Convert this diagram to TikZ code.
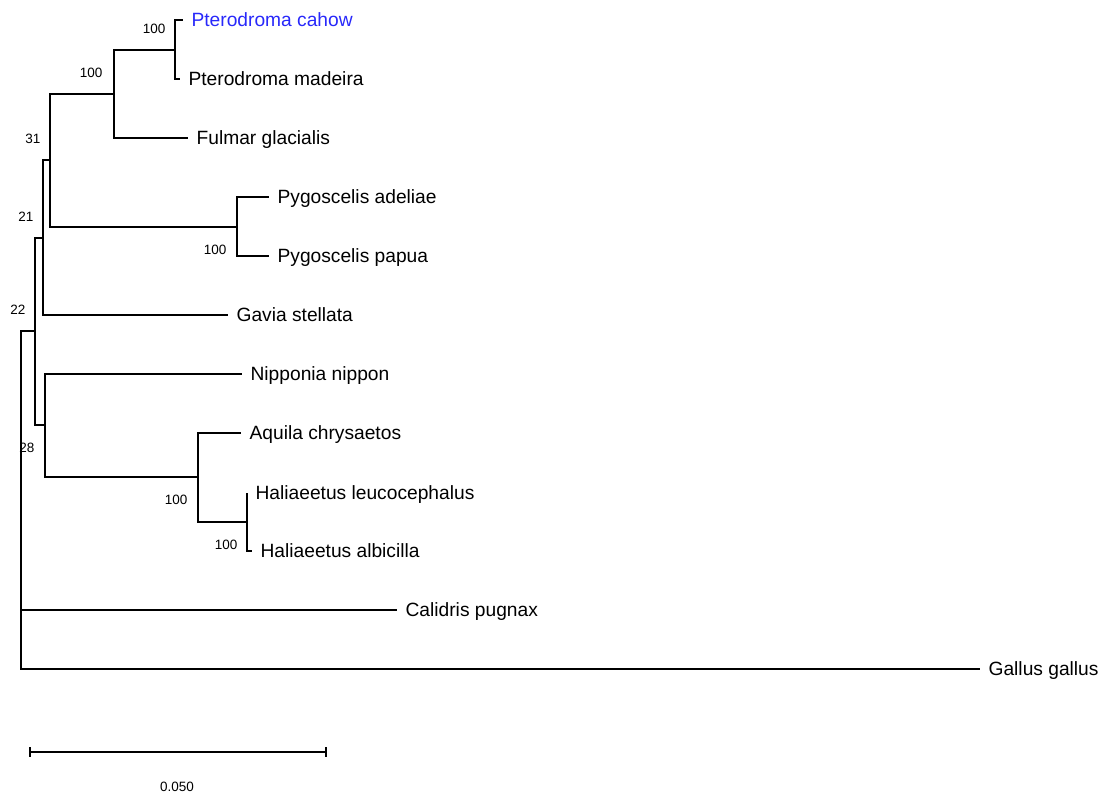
\documentclass[tikz,border=0pt]{standalone}
\usepackage{fontspec}
\setmainfont{Liberation Sans}
\definecolor{cahowblue}{RGB}{40,40,250}
\begin{document}
\begin{tikzpicture}[x=1pt,y=-1pt,line join=miter,line cap=butt,line width=1.2pt]
	\tikzset{tip/.style={anchor=west,inner xsep=8pt,inner ysep=0pt,text height=13.7pt,text depth=0pt,font=\fontsize{19.2}{22}\selectfont},
		boot/.style={inner sep=0pt,text height=9.7pt,text depth=0pt,font=\fontsize{13.5}{15}\selectfont},
		bootup/.style={boot,anchor=east,xshift=-9pt,yshift=21pt},
		bootdown/.style={boot,anchor=east,xshift=-9pt,yshift=-23pt}}
	\useasboundingbox (0,0) rectangle (1107,796);
	% inner nodes of the tree
	\coordinate (a) at (175,50);
	\coordinate (b) at (114,94);
	\coordinate (c) at (237,227);
	\coordinate (d) at (50,160);
	\coordinate (e) at (43,238);
	\coordinate (f) at (247,522);
	\coordinate (g) at (198,477);
	\coordinate (h) at (45,425);
	\coordinate (i) at (35,331);
	\coordinate (r) at (21,500);
	% taxa
	\node[tip,text=cahowblue] (cah) at (183,20) {Pterodroma cahow};
	\foreach \n/\x/\y/\t in {mad/180/79/Pterodroma madeira, ful/188/138/Fulmar glacialis,
		ade/269/197/Pygoscelis adeliae, pap/269/256/Pygoscelis papua, gav/228/315/Gavia stellata,
		nip/242/374/Nipponia nippon, aqu/241/433/Aquila chrysaetos, leu/247/493/Haliaeetus leucocephalus,
		alb/252/551/Haliaeetus albicilla, cal/397/610/Calidris pugnax, gal/980/669/Gallus gallus}
		\node[tip] (\n) at (\x,\y) {\t};
	% branches
	\draw (a) |- (cah.west) (a) |- (mad.west);
	\draw (b) |- (a) (b) |- (ful.west);
	\draw (c) |- (ade.west) (c) |- (pap.west);
	\draw (d) |- (b) (d) |- (c);
	\draw (e) |- (d) (e) |- (gav.west);
	\draw (f) |- (leu.west) (f) |- (alb.west);
	\draw (g) |- (aqu.west) (g) |- (f);
	\draw (h) |- (nip.west) (h) |- (g);
	\draw (i) |- (e) (i) |- (h);
	\draw (r) |- (i) (r) |- (cal.west) (r) |- (gal.west);
	% bootstrap values
	\node[bootup] (ba) at (a) {100};
	\node[bootup,xshift=-2pt] (bb) at (b) {100};
	\node[bootup] (bd) at (d) {31};
	\node[bootup] (be) at (e) {21};
	\node[bootup] (bi) at (i) {22};
	\node[bootdown,xshift=-1pt] (bh) at (h) {28};
	\node[bootdown,xshift=-1pt] (bc) at (c) {100};
	\node[bootdown,xshift=-1pt] (bg) at (g) {100};
	\node[bootdown] (bf) at (f) {100};
	% scale bar
	\coordinate (sl) at (30,752);
	\coordinate (sr) at (326,752);
	\draw (sl) -- (sr);
	\foreach \p in {sl,sr}
		\draw ([yshift=5pt]\p) -- ([yshift=-5pt]\p);
	\node[boot] (sc) at (177,787) {0.050};
\end{tikzpicture}
\end{document}
